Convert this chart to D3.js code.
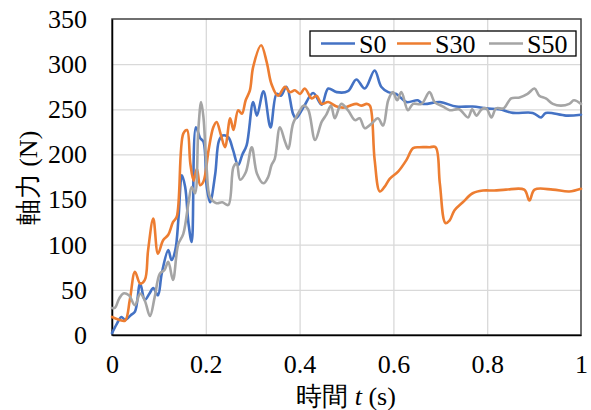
<!DOCTYPE html>
<html>
<head>
<meta charset="utf-8">
<script src="https://cdn.jsdelivr.net/npm/d3@7"></script>
</head>
<body style="margin:0">
<svg id="grafico"></svg>
<script>
// series: [t (s), axial force (N)]
const s0 = [
  [0, 2], [0.010, 12], [0.020, 20], [0.028, 17], [0.040, 22], [0.049, 26], [0.060, 57], [0.070, 39],
  [0.080, 46], [0.088, 52], [0.098, 44], [0.106, 68], [0.120, 94], [0.127, 83], [0.135, 94], [0.142, 131],
  [0.149, 177], [0.156, 164], [0.163, 124], [0.170, 103], [0.179, 230], [0.188, 218], [0.195, 214],
  [0.202, 164], [0.209, 147], [0.220, 178], [0.228, 215], [0.236, 221], [0.248, 219], [0.258, 205],
  [0.269, 188], [0.278, 200], [0.287, 210], [0.301, 258], [0.309, 243], [0.323, 270], [0.338, 230],
  [0.351, 267], [0.360, 265], [0.372, 275], [0.386, 245], [0.392, 240], [0.408, 252], [0.429, 268],
  [0.447, 255], [0.461, 273], [0.479, 269], [0.503, 270], [0.521, 283], [0.539, 273], [0.560, 293],
  [0.574, 275], [0.589, 269], [0.606, 267], [0.628, 258], [0.652, 260], [0.663, 256], [0.699, 258],
  [0.734, 253], [0.769, 253], [0.798, 251], [0.826, 250], [0.855, 246], [0.897, 246], [0.915, 241],
  [0.925, 246], [0.968, 243], [1.0, 244]
];
const s30 = [
  [0, 20], [0.015, 17], [0.028, 16], [0.038, 39], [0.049, 70], [0.060, 57], [0.070, 61], [0.077, 94],
  [0.088, 129], [0.098, 90], [0.109, 105], [0.120, 111], [0.130, 125], [0.138, 131], [0.152, 223],
  [0.160, 227], [0.167, 190], [0.174, 171], [0.181, 184], [0.188, 166], [0.195, 170], [0.206, 205],
  [0.216, 230], [0.223, 236], [0.232, 222], [0.241, 208], [0.252, 240], [0.259, 227], [0.269, 249],
  [0.277, 245], [0.285, 260], [0.294, 271], [0.301, 297], [0.318, 321], [0.330, 302], [0.340, 278],
  [0.354, 265], [0.369, 275], [0.379, 269], [0.390, 271], [0.401, 267], [0.411, 273], [0.426, 262],
  [0.436, 265], [0.447, 256], [0.461, 258], [0.479, 253], [0.496, 252], [0.507, 254], [0.521, 256],
  [0.532, 254], [0.543, 256], [0.550, 254], [0.560, 194], [0.571, 159], [0.581, 164], [0.592, 173],
  [0.610, 181], [0.628, 194], [0.642, 207], [0.656, 208], [0.677, 208], [0.690, 208], [0.699, 168],
  [0.711, 124], [0.720, 127], [0.730, 138], [0.748, 147], [0.769, 157], [0.791, 160], [0.815, 160],
  [0.840, 161], [0.879, 161], [0.890, 149], [0.901, 161], [0.940, 161], [0.975, 159], [1.0, 162]
];
const s50 = [
  [0, 30], [0.006, 30], [0.015, 40], [0.024, 46], [0.036, 44], [0.049, 33], [0.060, 46], [0.070, 38],
  [0.081, 21], [0.091, 42], [0.102, 68], [0.112, 72], [0.120, 81], [0.130, 61], [0.141, 100], [0.152, 112],
  [0.163, 146], [0.170, 164], [0.177, 157], [0.184, 227], [0.190, 258], [0.195, 241], [0.202, 183],
  [0.209, 153], [0.223, 146], [0.235, 147], [0.248, 144], [0.259, 186], [0.266, 190], [0.273, 172],
  [0.285, 180], [0.298, 208], [0.309, 179], [0.323, 168], [0.333, 175], [0.340, 188], [0.347, 195],
  [0.358, 230], [0.369, 214], [0.376, 206], [0.386, 234], [0.401, 249], [0.408, 254], [0.418, 250],
  [0.433, 216], [0.447, 236], [0.457, 244], [0.467, 254], [0.475, 240], [0.489, 256], [0.503, 249],
  [0.518, 238], [0.528, 240], [0.539, 229], [0.553, 234], [0.567, 240], [0.578, 232], [0.589, 260],
  [0.599, 269], [0.608, 260], [0.617, 269], [0.631, 249], [0.642, 256], [0.660, 256], [0.677, 269],
  [0.688, 258], [0.706, 253], [0.720, 249], [0.740, 250], [0.759, 241], [0.768, 250], [0.777, 243],
  [0.788, 250], [0.798, 251], [0.809, 241], [0.819, 251], [0.835, 251], [0.851, 262], [0.869, 263],
  [0.886, 267], [0.901, 273], [0.911, 265], [0.925, 262], [0.940, 256], [0.957, 254], [0.975, 256],
  [0.985, 260], [1.0, 256]
];
const nomes = ['S0', 'S30', 'S50'];
const cores = ['#4472c4', '#ed7d31', '#a5a5a5'];
const ticksX = [0, 0.2, 0.4, 0.6, 0.8, 1];
const ticksY = [0, 50, 100, 150, 200, 250, 300, 350];

const serifa = 'Liberation Serif';

const largura = 591, altura = 410;
const margem = { esquerda: 112, direita: 10, superior: 19, inferior: 75 };
const lp = largura - margem.esquerda - margem.direita;
const ap = altura - margem.superior - margem.inferior;

const svg = d3.select('#grafico').attr('width', largura).attr('height', altura);
const g = svg.append('g').attr('transform', `translate(${margem.esquerda}, ${margem.superior})`);

const x = d3.scaleLinear().domain([0, 1]).range([0, lp]);
const y = d3.scaleLinear().domain([0, 350]).range([ap, 0]);

// grade
[d3.axisBottom(x).tickValues(ticksX.slice(1, -1)).tickSize(ap),
 d3.axisRight(y).tickValues(ticksY.slice(1, -1)).tickSize(lp)].forEach(eixo => {
  const gr = g.append('g').call(eixo.tickFormat(''));
  gr.select('.domain').remove();
  gr.selectAll('line').attr('stroke', '#d9d9d9').attr('stroke-width', 1.3);
});

// borda da plotagem
g.append('rect').attr('width', lp).attr('height', ap)
    .attr('fill', 'none').attr('stroke', '#404040').attr('stroke-width', 1.5);

// eixos
const eixoX = g.append('g').attr('transform', `translate(0, ${ap})`)
    .call(d3.axisBottom(x).tickValues(ticksX).tickSize(0).tickPadding(20).tickFormat(d3.format('')));
const eixoY = g.append('g')
    .call(d3.axisLeft(y).tickValues(ticksY).tickSize(0).tickPadding(25));
[eixoX, eixoY].forEach(e => {
  e.attr('font-family', serifa).attr('font-size', 26);
  e.select('.domain').attr('stroke', '#000').attr('stroke-width', 1.5);
  e.selectAll('text').attr('fill', '#000').attr('font-family', serifa).attr('font-size', 26);
});
eixoX.selectAll('text').attr('dy', '0.71em');

// linhas
const linha = d3.line()
    .x(d => x(d[0]))
    .y(d => y(d[1]))
    .curve(d3.curveCatmullRom.alpha(0.5));
[s0, s30, s50].forEach((s, i) => {
  g.append('path').datum(s)
      .attr('fill', 'none')
      .attr('stroke', cores[i])
      .attr('stroke-width', 2.6)
      .attr('stroke-linejoin', 'round')
      .attr('stroke-linecap', 'round')
      .attr('d', linha);
});

// legenda
const leg = svg.append('g');
leg.append('rect').attr('x', 310).attr('y', 31).attr('width', 266).attr('height', 25)
    .attr('fill', '#fff').attr('stroke', '#000').attr('stroke-width', 1.3);
const posLeg = [321, 397, 489];
nomes.forEach((n, i) => {
  leg.append('line').attr('x1', posLeg[i]).attr('x2', posLeg[i] + 34)
      .attr('y1', 43.5).attr('y2', 43.5).attr('stroke', cores[i]).attr('stroke-width', 2.6);
  leg.append('text').attr('font-family', serifa).attr('x', posLeg[i] + 38).attr('y', 53)
      .attr('font-size', 26).text(n);
});

// títulos
svg.append('text').attr('font-family', serifa)
    .attr('transform', 'translate(37, 178) rotate(-90)')
    .attr('text-anchor', 'middle').attr('font-size', 26)
    .text('軸力 (N)');
const tx = svg.append('text').attr('font-family', serifa)
    .attr('x', 346).attr('y', 405)
    .attr('text-anchor', 'middle').attr('font-size', 26);
tx.append('tspan').text('時間 ');
tx.append('tspan').attr('font-style', 'italic').text('t');
tx.append('tspan').text(' (s)');
</script>
</body>
</html>
